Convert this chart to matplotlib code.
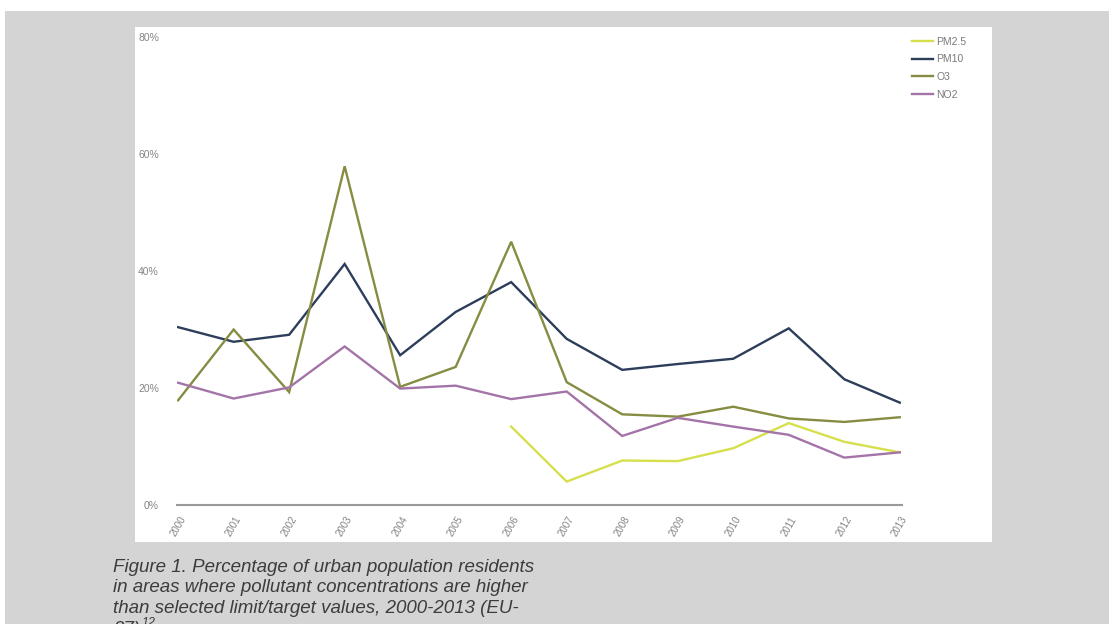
import matplotlib
matplotlib.use("Agg")
import matplotlib.pyplot as plt
from matplotlib.patches import Rectangle
import numpy as np

years = list(range(2000, 2014))
year_labels = [str(y) for y in years]
pm25 = [np.nan] * 6 + [13.4, 4.0, 7.6, 7.5, 9.7, 14.0, 10.8, 9.0]
pm10 = [30.4, 27.9, 29.1, 41.2, 25.6, 33.0, 38.1, 28.4, 23.1, 24.1, 25.0, 30.2, 21.5, 17.5]
o3 = [17.9, 30.0, 19.3, 57.9, 20.2, 23.6, 45.0, 21.0, 15.5, 15.1, 16.8, 14.8, 14.2, 15.0]
no2 = [20.9, 18.2, 20.1, 27.1, 19.9, 20.4, 18.1, 19.4, 11.8, 14.9, 13.4, 12.0, 8.1, 9.0]
yticks = [0, 20, 40, 60, 80]
ytick_labels = ["0%", "20%", "40%", "60%", "80%"]
series_names = ["PM2.5", "PM10", "O3", "NO2"]
colors = ["#d5e04c", "#2d3e5b", "#868c42", "#a474a8"]

caption = [
    "Figure 1. Percentage of urban population residents",
    "in areas where pollutant concentrations are higher",
    "than selected limit/target values, 2000-2013 (EU-",
]

W, H = 1109, 624
fig = plt.figure(figsize=(W / 100, H / 100), dpi=100)
fig.patch.set_facecolor("white")

def fx(px):
    return px / W

def fy(py):
    return 1 - py / H

# gray background and white panel
fig.patches.append(Rectangle((fx(5), 0), 1 - fx(5), fy(11), transform=fig.transFigure,
                             facecolor="#d4d4d4", edgecolor="none", zorder=-10))
fig.patches.append(Rectangle((fx(135), fy(542)), fx(992) - fx(135), fy(27) - fy(542),
                             transform=fig.transFigure, facecolor="white",
                             edgecolor="none", zorder=-9))

left, right, top, bottom = 177, 902, 37, 505
ax = fig.add_axes([fx(left), fy(bottom), fx(right) - fx(left), fy(top) - fy(bottom)])
ax.set_facecolor("none")

for name, vals, c in zip(series_names, [pm25, pm10, o3, no2], colors):
    ax.plot(years, vals, color=c, lw=1.7, label=name, solid_joinstyle="miter")

ax.set_xlim(2000 - 0.02, 2013 + 0.04)
ax.set_ylim(0, 80)
ax.set_xticks(years)
ax.set_xticklabels(year_labels, rotation=60, ha="center", va="top",
                   fontsize=7, color="#858585", family="Liberation Sans")
ax.set_yticks(yticks)
ax.set_yticklabels(ytick_labels, fontsize=7.5, color="#858585", family="Liberation Sans")
ax.tick_params(axis="both", length=0)
ax.tick_params(axis="y", pad=13)
ax.tick_params(axis="x", pad=7)
for s in ["top", "right", "left"]:
    ax.spines[s].set_visible(False)
ax.spines["bottom"].set_color("#9a9a9a")
ax.spines["bottom"].set_linewidth(1.5)

leg = ax.legend(loc="upper left", bbox_to_anchor=(fx(912), fy(37)),
                bbox_transform=fig.transFigure, frameon=False,
                handlelength=2.0, handletextpad=0.35,
                labelspacing=0.72, borderpad=0, borderaxespad=0,
                prop={"family": "Liberation Sans", "size": 7.5})
for t in leg.get_texts():
    t.set_color("#7a7a7a")

cap_kw = dict(fontsize=13.5, style="italic", color="#3c3c3c",
              family="Liberation Sans", va="baseline", ha="left")
baselines = [572, 592, 613]
for line, b in zip(caption, baselines):
    fig.text(fx(113), fy(b), line, **cap_kw)
fig.text(fx(113), fy(634), "27)", **cap_kw)
fig.text(fx(142), fy(626), "12", **dict(cap_kw, fontsize=9))

fig.savefig("out.png", dpi=100)
